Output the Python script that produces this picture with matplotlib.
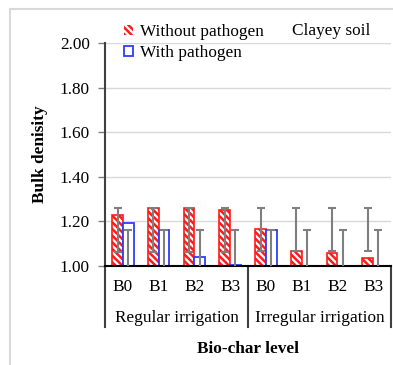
import numpy as np
import matplotlib
matplotlib.use("Agg")
import matplotlib.pyplot as plt
from matplotlib.patches import Patch
from matplotlib.lines import Line2D

plt.rcParams['font.family'] = ['Liberation Serif', 'DejaVu Serif']
plt.rcParams['font.size'] = 12.4
plt.rcParams['hatch.linewidth'] = 1.6

# bulk density per bio-char level, two irrigation regimes
levels = ['B0', 'B1', 'B2', 'B3', 'B0', 'B1', 'B2', 'B3']
regimes = ['Regular irrigation', 'Irregular irrigation']
without_pathogen = [1.23, 1.26, 1.26, 1.25, 1.165, 1.068, 1.06, 1.035]
with_pathogen = [1.195, 1.16, 1.04, 1.005, 1.16, 1.0, 1.0, 1.0]

# error bar ranges (low / high)
without_low = [1.065, 1.065, 1.065, 1.065, 1.068, 1.068, 1.068, 1.068]
without_high = [1.26, 1.26, 1.26, 1.26, 1.26, 1.26, 1.26, 1.26]
with_low = [0.97] * 8
with_high = [1.16] * 8

base = 1.0
red = '#ff1a1a'
blue = '#2f3cff'
grey = '#7f7f7f'

fig = plt.figure(figsize=(3.93, 3.65), dpi=100)
ax = fig.add_axes([105 / 393, 1 - 266 / 365, 286 / 393, 222.7 / 365])

x = np.arange(len(levels))
w = 0.30
off = 0.15

wo = np.array(without_pathogen)
wi = np.array(with_pathogen)

# hatched red bars: white stripes on red, then a red outline
ax.bar(x - off, wo - base, w, bottom=base, color=red, edgecolor='white',
       hatch='\\\\\\\\\\', linewidth=0, zorder=2)
ax.bar(x - off, wo - base, w, bottom=base, fill=False, edgecolor=red,
       linewidth=1.2, zorder=2)
ax.bar(x + off, wi - base, w, bottom=base, color='white', edgecolor=blue,
       linewidth=1.3, zorder=2)


def range_bars(xpos, low, high):
    low = np.array(low)
    high = np.array(high)
    mid = (low + high) / 2
    ax.errorbar(xpos, mid, yerr=(high - low) / 2, fmt='none', ecolor=grey,
                elinewidth=1.5, capsize=3, capthick=1.5, zorder=3)


range_bars(x - off, without_low, without_high)
range_bars(x + off, with_low, with_high)

ax.set_xlim(-0.5, len(levels) - 0.5)
ax.set_ylim(1.0, 2.0)
ax.set_yticks(np.arange(1.0, 2.01, 0.2))
ax.set_yticklabels([f'{v:.2f}' for v in np.arange(1.0, 2.01, 0.2)])
ax.yaxis.grid(True, color='#d9d9d9', linewidth=1)
ax.set_axisbelow(True)
ax.tick_params(axis='y', length=5, width=1, color=grey, pad=6)
ax.tick_params(axis='x', length=0, labelbottom=False)

for s in ['top', 'right']:
    ax.spines[s].set_visible(False)
ax.spines['left'].set_color('#404040')
ax.spines['left'].set_linewidth(1.5)
ax.spines['bottom'].set_color('black')
ax.spines['bottom'].set_linewidth(1.5)

ax.set_ylabel('Bulk denisity', fontweight='bold', labelpad=8)

# two-level category axis
tr = ax.get_xaxis_transform()
for i, lab in enumerate(levels):
    ax.text(i, -0.093, lab, transform=tr, ha='center', va='center')
for j, reg in enumerate(regimes):
    ax.text(4 * j + 1.5, -0.235, reg, transform=tr, ha='center', va='center')
for xs in [-0.5, 3.5, 7.5]:
    ax.plot([xs, xs], [0, -0.274], transform=tr, color='#404040', lw=1.5, clip_on=False)
ax.text(3.5, -0.372, 'Bio-char level', transform=tr, ha='center', va='center',
        fontweight='bold')

handles = [Patch(facecolor=red, edgecolor='white', hatch='\\\\\\\\\\', linewidth=0),
           Patch(facecolor='white', edgecolor=blue, linewidth=1.3)]
fig.legend(handles, ['Without pathogen', 'With pathogen'], loc='upper left',
           bbox_to_anchor=(124 / 393, 1 - 24 / 365), frameon=False,
           handlelength=0.5, handleheight=0.5, handletextpad=0.45,
           labelspacing=0.3, borderpad=0, borderaxespad=0)
fig.text(292 / 393, 1 - 35 / 365, 'Clayey soil', va='baseline', ha='left')

# light frame
fig.add_artist(Line2D([10 / 393, 10 / 393], [0, 1 - 9 / 365], color='#d9d9d9', lw=1.5))
fig.add_artist(Line2D([10 / 393, 1], [1 - 9 / 365, 1 - 9 / 365], color='#d9d9d9', lw=1.5))

fig.savefig('out.png', dpi=100)
